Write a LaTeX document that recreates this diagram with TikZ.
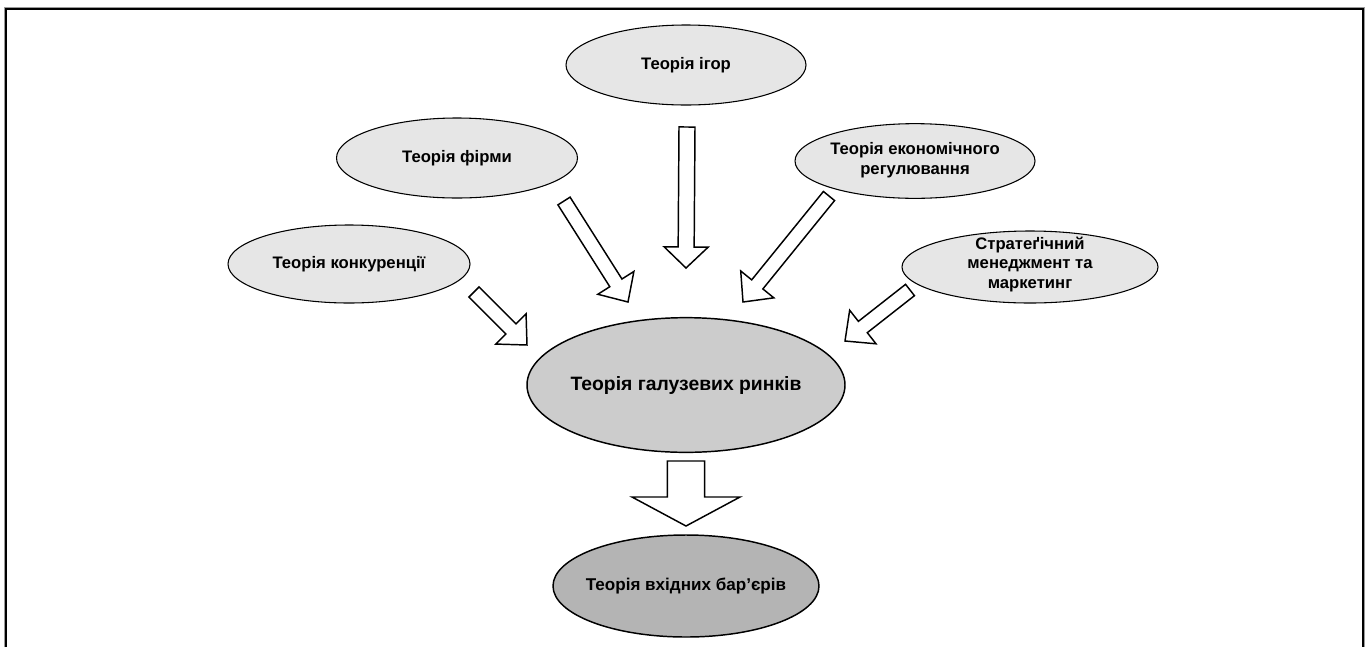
\documentclass[tikz,border=0pt]{standalone}
\usepackage{fontspec}
\setmainfont{Liberation Sans}
\usetikzlibrary{shapes.geometric,calc}

\definecolor{lightfill}{HTML}{E6E6E6}
\definecolor{mainfill}{HTML}{CCCCCC}
\definecolor{darkfill}{HTML}{B4B4B4}
\definecolor{framegray}{HTML}{9A9A9A}

\tikzset{
  oval/.style={ellipse, draw=black, line width=0.8pt, fill=lightfill, inner sep=0pt},
  label text/.style={font=\bfseries\fontsize{12.5}{14.6}\selectfont, align=center, inner sep=0pt},
  fat arrow/.style={draw=black, fill=white, line width=1.1pt, line join=miter},
}

% block arrow: #1 tail, #2 tip, #3 shaft half width, #4 head half width, #5 head length
\newcommand\fatarrow[5]{%
  \coordinate (fa-base) at ($(#2)!#5!(#1)$);
  \draw[fat arrow]
    ($(#1)!#3!90:(#2)$) -- ($(fa-base)!#3!90:(#2)$) --
    ($(fa-base)!#4!90:(#2)$) -- (#2) --
    ($(fa-base)!#4!-90:(#2)$) -- ($(fa-base)!#3!-90:(#2)$) --
    ($(#1)!#3!-90:(#2)$) -- cycle;
}

\begin{document}
\begin{tikzpicture}[x=0.75pt, y=-0.75pt]
\useasboundingbox (0,0) rectangle (1367,647);

% open frame (no bottom edge)
\draw[framegray, line width=0.8pt] (4.3,647) -- (4.3,7.6) -- (1364.6,7.6) -- (1364.6,647);
\draw[black, line width=1.7pt] (6,647) -- (6,9.2) -- (1362.8,9.2) -- (1362.8,647);

% source theories
\node[oval, minimum width=180pt, minimum height=60pt] (ig) at (686,65) {};
\node[label text] at (ig) {Теорія ігор};

\node[oval, minimum width=180.75pt, minimum height=60pt] (firm) at (457,158) {};
\node[label text] at (firm) {Теорія фірми};

\node[oval, minimum width=180pt, minimum height=56pt] (reg) at (915,161) {};
\node[label text] at ([yshift=0.75pt]reg) {Теорія економічного\\регулювання};

\node[oval, minimum width=181.5pt, minimum height=58.5pt] (konk) at (349,264) {};
\node[label text] at (konk) {Теорія конкуренції};

\node[oval, minimum width=192pt, minimum height=54pt] (strat) at (1030,267) {};
\node[label text] at ([yshift=2pt]strat) {Стратеґічний\\менеджмент та\\маркетинг};

% central theory
\node[oval, fill=mainfill, line width=1.1pt, minimum width=238.5pt, minimum height=101pt] (main) at (686,385) {};
\node[label text, font=\bfseries\fontsize{14.5}{16.5}\selectfont] at (main) {Теорія галузевих ринків};

% resulting theory
\node[oval, fill=darkfill, line width=1.1pt, minimum width=199.5pt, minimum height=76.5pt] (bar) at (686,586) {};
\node[label text, font=\bfseries\fontsize{12.8}{15}\selectfont] at (bar) {Теорія вхідних бар’єрів};

% arrow ends
\coordinate (ig-t) at (687,127);    \coordinate (ig-h) at (686,268);
\coordinate (firm-t) at (564,201);  \coordinate (firm-h) at (628,302);
\coordinate (reg-t) at (829,196);   \coordinate (reg-h) at (743,302);
\coordinate (konk-t) at (474,292);  \coordinate (konk-h) at (527,345);
\coordinate (strat-t) at (910,290); \coordinate (strat-h) at (845,341);
\coordinate (main-t) at (686,461);  \coordinate (main-h) at (686,526);

\fatarrow{ig-t}{ig-h}{6pt}{16.5pt}{15.75pt}
\fatarrow{firm-t}{firm-h}{5.4pt}{16pt}{17pt}
\fatarrow{reg-t}{reg-h}{5.4pt}{16pt}{17pt}
\fatarrow{konk-t}{konk-h}{5.4pt}{16pt}{17pt}
\fatarrow{strat-t}{strat-h}{5.4pt}{16pt}{17pt}
\fatarrow{main-t}{main-h}{13.9pt}{40.5pt}{21.75pt}
\end{tikzpicture}
\end{document}
